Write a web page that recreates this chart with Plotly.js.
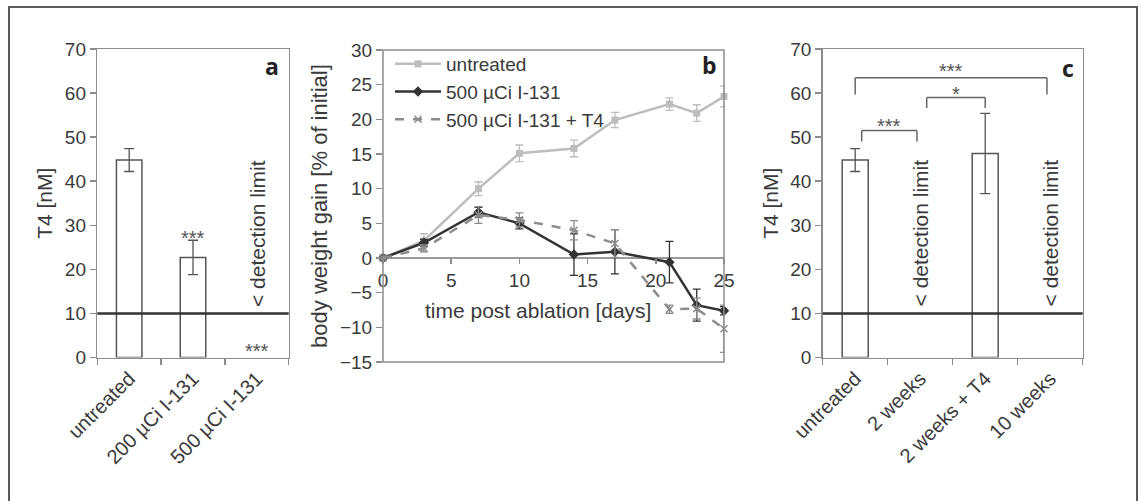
<!DOCTYPE html>
<html>
<head>
<meta charset="utf-8">
<script src="https://cdn.plot.ly/plotly-3.0.1.min.js"></script>
<style>html,body{margin:0;padding:0;background:#fff;}#chart{width:1143px;height:501px;}</style>
</head>
<body>
<div id="chart"></div>
<script>
// ---------- Panel a ----------
const catsA = ["untreated", "200 µCi I-131", "500 µCi I-131"];
const valsA = [44.8, 22.7, null];
const errA = [2.6, 3.9, null];

// ---------- Panel b ----------
const days = [0, 3, 7, 10, 14, 17, 21, 23, 25];
const untreatedB = [0, 2.5, 10.0, 15.1, 15.8, 19.9, 22.2, 20.9, 23.3];
const untreatedErr = [0, 1.0, 1.0, 1.2, 1.2, 1.1, 0.9, 1.2, 1.5];
const i131B = [0, 2.2, 6.6, 5.0, 0.5, 0.9, -0.6, -6.8, -7.6];
const i131Err = [0, 0.5, 0.7, 0.8, 3.0, 3.2, 3.0, 2.3, 0.6];
const i131T4B = [0, 1.4, 6.2, 5.5, 4.0, 2.1, -7.4, -7.3, -10.2];
const i131T4Err = [0, 0.5, 1.2, 1.0, 1.4, 2.0, 0.6, 1.5, 3.4];
const seriesNamesB = ["untreated", "500 µCi I-131", "500 µCi I-131 + T4"];

// ---------- Panel c ----------
const catsC = ["untreated", "2 weeks", "2 weeks + T4", "10 weeks"];
const valsC = [44.8, null, 46.3, null];
const errC = [2.6, null, 9.1, null];

const detectionLimit = 10;
const belowLimitA = ["500 µCi I-131"];
const belowLimitC = ["2 weeks", "10 weeks"];
const sigLabelsA = {"200 µCi I-131": "***", "500 µCi I-131": "***"};
const bracketsC = [
  {from: "untreated", to: "2 weeks", label: "***"},
  {from: "2 weeks", to: "2 weeks + T4", label: "*"},
  {from: "untreated", to: "10 weeks", label: "***"}
];

const FONT = "Liberation Sans, Arial, sans-serif";
const txt = "#3a3a3a";
const axisGray = "#8c8c8c";
const barLine = "#555555";

function barTrace(cats, vals, errs, xa, ya) {
  return {
    type: "bar", x: cats, y: vals, xaxis: xa, yaxis: ya, width: 0.4,
    marker: {color: "#ffffff", line: {color: barLine, width: 1.5}},
    error_y: {type: "data", array: errs, visible: true, color: barLine, thickness: 1.3, width: 5},
    showlegend: false, hoverinfo: "skip"
  };
}

const traces = [
  barTrace(catsA, valsA, errA, "x", "y"),
  barTrace(catsC, valsC, errC, "x3", "y3"),
  {
    type: "scatter", mode: "lines+markers", name: seriesNamesB[0], x: days, y: untreatedB,
    xaxis: "x2", yaxis: "y2", cliponaxis: false,
    line: {color: "#bdbdbd", width: 2.5}, marker: {symbol: "square", size: 7, color: "#bdbdbd"},
    error_y: {type: "data", array: untreatedErr, color: "#bdbdbd", thickness: 1.3, width: 4}
  },
  {
    type: "scatter", mode: "lines+markers", name: seriesNamesB[1], x: days, y: i131B,
    xaxis: "x2", yaxis: "y2", cliponaxis: false,
    line: {color: "#333333", width: 2.5}, marker: {symbol: "diamond", size: 8, color: "#333333"},
    error_y: {type: "data", array: i131Err, color: "#333333", thickness: 1.3, width: 4}
  },
  {
    type: "scatter", mode: "lines+markers", name: seriesNamesB[2], x: days, y: i131T4B,
    xaxis: "x2", yaxis: "y2", cliponaxis: false,
    line: {color: "#8c8c8c", width: 2.5, dash: "dash"},
    marker: {symbol: "x-thin-open", size: 7, color: "#8c8c8c", line: {color: "#8c8c8c", width: 1.5}},
    error_y: {type: "data", array: i131T4Err, color: "#8c8c8c", thickness: 1.3, width: 4}
  }
];

const W = 1143, H = 501;
const px = v => v / W, py = v => 1 - v / H;

const catAxis = (domain, n) => ({
  domain: domain, type: "category", range: [-0.5, n - 0.5], tickson: "boundaries",
  ticks: "outside", ticklen: 6, tickcolor: axisGray, tickwidth: 1.5,
  showline: true, linecolor: axisGray, linewidth: 1.5, mirror: true,
  tickangle: -45, tickfont: {family: FONT, size: 20, color: txt}, showgrid: false, fixedrange: true
});
const t4Axis = (domain, anchor) => ({
  domain: domain, anchor: anchor, range: [0, 70], dtick: 10,
  ticks: "outside", ticklen: 6, tickcolor: axisGray, tickwidth: 1.5,
  showline: true, linecolor: axisGray, linewidth: 1.5, mirror: true,
  tickfont: {family: FONT, size: 19, color: txt}, showgrid: false, zeroline: false,
  title: {text: "T4 [nM]", font: {family: FONT, size: 21, color: txt}, standoff: 6}
});

const layout = {
  width: W, height: H, margin: {l: 0, r: 0, t: 0, b: 0},
  paper_bgcolor: "#ffffff", plot_bgcolor: "rgba(0,0,0,0)",
  font: {family: FONT, color: txt},
  xaxis: Object.assign(catAxis([px(97.3), px(288.7)], catsA.length), {anchor: "y"}),
  yaxis: t4Axis([py(357.5), py(49)], "x"),
  xaxis3: Object.assign(catAxis([px(822.7), px(1082.7)], catsC.length), {anchor: "y3"}),
  yaxis3: t4Axis([py(357.5), py(49)], "x3"),
  xaxis2: {
    domain: [px(383), px(724)], anchor: "free", position: py(258), range: [0, 25], dtick: 5,
    showline: false, ticks: "outside", ticklen: 5, tickcolor: axisGray, tickwidth: 1.5,
    tickfont: {family: FONT, size: 19, color: txt}, showgrid: false, zeroline: false
  },
  yaxis2: {
    domain: [py(362), py(50)], anchor: "x2", range: [-15, 30], dtick: 5,
    showline: false, ticks: "outside", ticklen: 6, tickcolor: axisGray, tickwidth: 1.5,
    tickfont: {family: FONT, size: 19, color: txt}, showgrid: false,
    zeroline: true, zerolinecolor: "#9a9a9a", zerolinewidth: 1.5,
    title: {text: "body weight gain [% of initial]", font: {family: FONT, size: 22, color: txt}, standoff: 6}
  },
  legend: {
    x: px(390), y: py(45), xanchor: "left", yanchor: "top", bgcolor: "rgba(0,0,0,0)",
    font: {family: FONT, size: 19, color: txt}, itemwidth: 46, tracegroupgap: 0
  },
  shapes: [],
  annotations: []
};

// outer frame
layout.shapes.push({type: "rect", xref: "paper", yref: "paper", x0: px(9), x1: px(1137), y0: -0.05, y1: py(7),
  line: {color: "#5a5a5a", width: 2}});
// panel b box
layout.shapes.push({type: "rect", xref: "x2 domain", yref: "y2 domain", x0: 0, x1: 1, y0: 0, y1: 1,
  line: {color: axisGray, width: 1.5}});
// detection limit lines
[["x", "y"], ["x3", "y3"]].forEach(([xa, ya]) => {
  layout.shapes.push({type: "line", xref: xa + " domain", yref: ya, x0: 0, x1: 1, y0: detectionLimit, y1: detectionLimit,
    line: {color: "#333333", width: 2.5}});
});

// detection limit labels
function belowLabel(cat, xa, ya) {
  layout.annotations.push({xref: xa, yref: ya, x: cat, y: 28.2, text: "< detection limit", textangle: -90,
    showarrow: false, font: {family: FONT, size: 21, color: txt}});
}
belowLimitA.forEach(c => belowLabel(c, "x", "y"));
belowLimitC.forEach(c => belowLabel(c, "x3", "y3"));

const STAR_FONT = {family: FONT, size: 20, color: "#555"};
function stars(xa, ya, x, yMid, text) {
  layout.annotations.push({xref: xa, yref: ya, x: x, y: yMid, yanchor: "middle",
    text: text, showarrow: false, font: STAR_FONT});
}
// significance stars panel a
catsA.forEach((c, i) => {
  if (!sigLabelsA[c]) return;
  const mid = valsA[i] === null ? 1.45 : valsA[i] + errA[i] + 0.55;
  stars("x", "y", c, mid, sigLabelsA[c]);
});

// brackets panel c
const bracketY = [51.5, 59.0, 63.5];
const legY = [49.0, 56.6, 59.7];
const labelOffset = [0.95, 0.7, 1.5];
const inset = [[0.1, -0.05], [0.1, 0.0], [0.0, -0.05]];
bracketsC.forEach((b, k) => {
  const i0 = catsC.indexOf(b.from) + inset[k][0];
  const i1 = catsC.indexOf(b.to) + inset[k][1];
  const ln = {color: "#666", width: 1.5};
  layout.shapes.push({type: "line", xref: "x3", yref: "y3", x0: i0, x1: i1, y0: bracketY[k], y1: bracketY[k], line: ln});
  layout.shapes.push({type: "line", xref: "x3", yref: "y3", x0: i0, x1: i0, y0: legY[k], y1: bracketY[k], line: ln});
  layout.shapes.push({type: "line", xref: "x3", yref: "y3", x0: i1, x1: i1, y0: legY[k], y1: bracketY[k], line: ln});
  stars("x3", "y3", (i0 + i1) / 2, bracketY[k] + labelOffset[k], b.label);
});

// panel letters
[["a", 272, 66], ["b", 709, 65], ["c", 1068, 68]].forEach(([t, x, y]) => {
  layout.annotations.push({xref: "paper", yref: "paper", x: px(x), y: py(y), xanchor: "center", yanchor: "middle",
    text: t, showarrow: false, font: {family: "Open Sans, sans-serif", size: 23, color: "#222", weight: "bold"}});
});

// x title panel b
layout.annotations.push({xref: "paper", yref: "paper", x: px(538), y: py(310), text: "time post ablation [days]",
  showarrow: false, font: {family: FONT, size: 21, color: txt}});

Plotly.newPlot("chart", traces, layout, {displayModeBar: false, staticPlot: true});
</script>
</body>
</html>
